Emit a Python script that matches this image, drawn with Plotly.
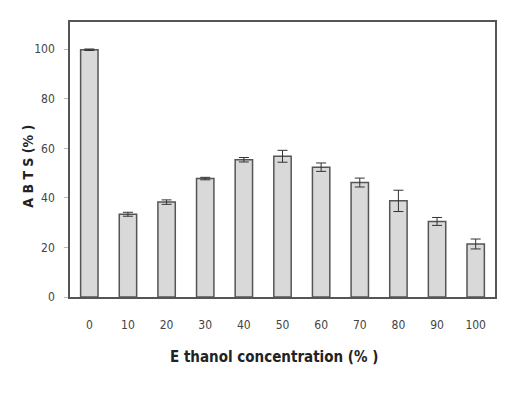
import plotly.graph_objects as go

categories = ["0", "10", "20", "30", "40", "50", "60", "70", "80", "90", "100"]
abts_values = [99.8, 33.4, 38.3, 47.8, 55.4, 56.8, 52.4, 46.2, 38.8, 30.5, 21.4]
abts_errors = [0.3, 0.8, 0.9, 0.5, 0.9, 2.4, 1.7, 1.8, 4.3, 1.6, 2.0]
y_ticks = [0, 20, 40, 60, 80, 100]

fig = go.Figure()
fig.add_trace(go.Bar(
    x=categories,
    y=abts_values,
    error_y=dict(type="data", array=abts_errors, visible=True,
                 color="#333333", thickness=1, width=5),
    marker=dict(color="#d9d9d9", line=dict(color="#555555", width=1.5)),
    width=0.45,
))

font_fam = "Liberation Sans Narrow, DejaVu Sans Condensed, Arial, sans-serif"
# page body has an 8px default margin, so margins are shifted to compensate
fig.update_layout(
    width=532, height=394,
    margin=dict(l=62, r=45, t=14, b=105, autoexpand=False),
    paper_bgcolor="white", plot_bgcolor="white",
    showlegend=False,
    font=dict(family=font_fam, color="#333333", size=12),
    xaxis=dict(
        type="category", range=[-0.5, 10.5], automargin=False,
        showline=True, linecolor="#555555", linewidth=1.5, mirror=True,
        ticks="", ticklen=0, ticklabelstandoff=16,
        tickfont=dict(size=12, color="#444444"),
        showgrid=False,
    ),
    yaxis=dict(
        range=[0, 111], automargin=False,
        tickvals=y_ticks,
        showline=True, linecolor="#555555", linewidth=1.5, mirror=True,
        ticks="outside", ticklen=4, tickcolor="#bbbbbb", ticklabelstandoff=7,
        tickfont=dict(size=12, color="#444444"),
        showgrid=False, zeroline=False,
    ),
    annotations=[
        dict(text="<b>E thanol concentration (% )</b>", xref="paper", yref="paper",
             x=0.48, y=-0.218, xanchor="center", yanchor="middle", showarrow=False,
             font=dict(size=15, color="#222222")),
        dict(text="<b>A B T S (% )</b>", xref="paper", yref="paper",
             x=-0.098, y=0.475, xanchor="center", yanchor="middle", showarrow=False,
             textangle=-90, font=dict(size=14, color="#222222")),
    ],
)

fig.write_html("out.html")
